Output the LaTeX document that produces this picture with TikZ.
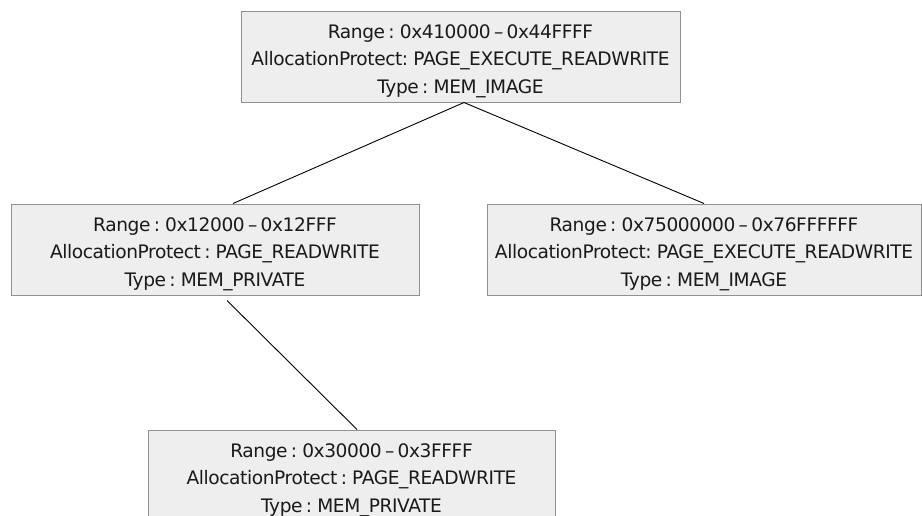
\documentclass[tikz,border=0pt]{standalone}
\usepackage{fontspec}
\setmainfont[LetterSpace=-2.2,WordSpace=0.6]{DejaVu Sans}
\definecolor{boxfill}{HTML}{EEEEEE}
\definecolor{boxline}{HTML}{909090}
\definecolor{txt}{HTML}{1A1A1A}
\begin{document}
\begin{tikzpicture}[x=1pt,y=-1pt,
  membox/.style={draw=boxline, fill=boxfill, line width=1pt, inner sep=0pt,
    minimum height=91pt, anchor=center},
  memtext/.style={align=center, text=txt, inner sep=0pt,
    font=\fontsize{18.6}{27.5}\selectfont},
  link/.style={draw=black, line width=0.9pt}]
\useasboundingbox (0,0) rectangle (922,515);
\clip (0,0) rectangle (922,515);

% region boxes
\node[membox, minimum width=439pt] (root)  at (460.5,56.5) {};
\node[membox, minimum width=408pt] (heap)  at (215,249.5) {};
\node[membox, minimum width=434pt] (image) at (704,249.5) {};
\node[membox, minimum width=407pt] (stack) at (351.5,475.5) {};

% region descriptions
\node[memtext] (rootT) at ([yshift=-4.4pt]root.center)
  {Range : 0x410000 – 0x44FFFF\\AllocationProtect: PAGE\_EXECUTE\_READWRITE\\Type : MEM\_IMAGE};
\node[memtext] (heapT) at ([yshift=-4.4pt]heap.center)
  {Range : 0x12000 – 0x12FFF\\AllocationProtect : PAGE\_READWRITE\\Type : MEM\_PRIVATE};
\node[memtext] (imageT) at ([yshift=-4.4pt]image.center)
  {Range : 0x75000000 – 0x76FFFFFF\\AllocationProtect: PAGE\_EXECUTE\_READWRITE\\Type : MEM\_IMAGE};
\node[memtext] (stackT) at ([yshift=-4.4pt]stack.center)
  {Range : 0x30000 – 0x3FFFF\\AllocationProtect : PAGE\_READWRITE\\Type : MEM\_PRIVATE};

% tree links
\draw[link] ([xshift=3.5pt]root.south) -- ([xshift=18pt]heap.north);
\draw[link] ([xshift=3.5pt]root.south) -- (image.north);
\draw[link] ([xshift=12pt,yshift=-5pt]heap.south) -- ([xshift=5.5pt]stack.north);
\end{tikzpicture}
\end{document}
